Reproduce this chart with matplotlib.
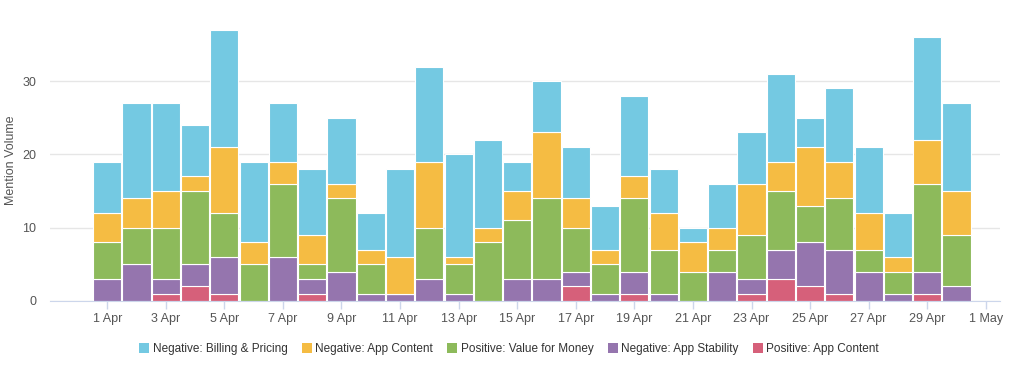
import numpy as np
import matplotlib
matplotlib.use('Agg')
import matplotlib.pyplot as plt
from matplotlib.patches import Patch

plt.rcParams['font.family'] = ['Liberation Sans', 'DejaVu Sans']

# one bar per day, 1 Apr .. 30 Apr
days = list(range(1, 31))
red = [0, 0, 1, 2, 1, 0, 0, 1, 0, 0, 0, 0, 0, 0, 0, 0, 2, 0, 1, 0, 0, 0, 1, 3, 2, 1, 0, 0, 1, 0]
purple = [3, 5, 2, 3, 5, 0, 6, 2, 4, 1, 1, 3, 1, 0, 3, 3, 2, 1, 3, 1, 0, 4, 2, 4, 6, 6, 4, 1, 3, 2]
green = [5, 5, 7, 10, 6, 5, 10, 2, 10, 4, 0, 7, 4, 8, 8, 11, 6, 4, 10, 6, 4, 3, 6, 8, 5, 7, 3, 3, 12, 7]
yellow = [4, 4, 5, 2, 9, 3, 3, 4, 2, 2, 5, 9, 1, 2, 4, 9, 4, 2, 3, 5, 4, 3, 7, 4, 8, 5, 5, 2, 6, 6]
blue = [7, 13, 12, 7, 16, 11, 8, 9, 9, 5, 12, 13, 14, 12, 4, 7, 7, 6, 11, 6, 2, 6, 7, 12, 4, 10, 9, 6, 14, 12]

series = [
    ('Positive: App Content', red, '#D6607A'),
    ('Negative: App Stability', purple, '#9575AE'),
    ('Positive: Value for Money', green, '#8DBA5B'),
    ('Negative: App Content', yellow, '#F5BC43'),
    ('Negative: Billing & Pricing', blue, '#74C9E2'),
]
legend_order = [4, 3, 2, 1, 0]

tick_days = list(range(1, 32, 2))
tick_labels = [f'{d} Apr' for d in range(1, 30, 2)] + ['1 May']

fig = plt.figure(figsize=(10.24, 3.78), dpi=100)
ax = fig.add_axes([0.049, 0.204, 0.928, 0.746])

x = np.array(days)
bottom = np.zeros(len(days))
for name, vals, color in series:
    v = np.array(vals, dtype=float)
    ax.bar(x, v, bottom=bottom, width=0.96, color=color,
           edgecolor='white', linewidth=0.8)
    bottom += v

ax.set_xlim(-0.947, 31.5)
ax.set_ylim(0, 38.5)
ax.set_yticks([0, 10, 20, 30])
ax.yaxis.grid(True, color='#e6e6e6', lw=1)
ax.set_axisbelow(True)
ax.set_xticks(tick_days)
ax.set_xticklabels(tick_labels)
ax.tick_params(axis='x', colors='#ccd6eb', length=6, width=1, labelcolor='#555555',
               labelsize=9, pad=3)
ax.tick_params(axis='y', length=0, labelcolor='#555555', labelsize=9, pad=10)
for s in ('top', 'right', 'left'):
    ax.spines[s].set_visible(False)
ax.spines['bottom'].set_color('#ccd6eb')
ax.set_ylabel('Mention Volume', fontsize=9, color='#555555', labelpad=4)

handles = [Patch(facecolor=series[i][2], label=series[i][0]) for i in legend_order]
fig.legend(handles=handles, loc='center', bbox_to_anchor=(0.497, 0.077), ncol=5,
           frameon=False, fontsize=8.5, handlelength=0.85, handleheight=0.85,
           handletextpad=0.3, columnspacing=1.2, labelcolor='#333333')

fig.savefig('out.png', dpi=100)
